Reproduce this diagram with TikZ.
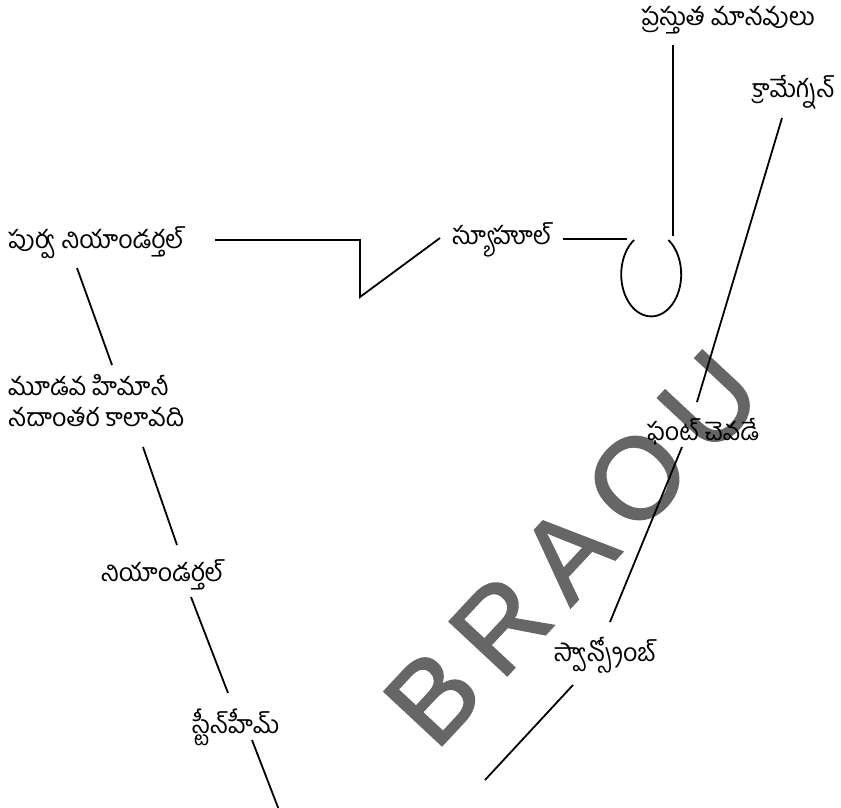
\documentclass[tikz,border=0pt]{standalone}
\usepackage{fontspec}
\newfontfamily\telugu[Script=Telugu]{Hind Guntur}
\newfontfamily\markfont[FakeBold=1.6]{Liberation Sans}
\usepackage{tikz}
\usetikzlibrary{positioning, calc}
\tikzstyle{lbl} = [font=\telugu\fontsize{25}{28}\selectfont, inner sep=0pt]
\tikzstyle{link} = [line width=1.8pt]
\tikzstyle{wmark} = [font=\markfont\fontsize{115}{115}\selectfont, text=black!60, inner sep=0pt]
\newcommand{\wgap}{\hspace{19pt}}

\begin{document}
\begin{tikzpicture}[x=1pt,y=-1pt]
    \useasboundingbox (0,0) rectangle (841,808);

    % watermark of the scan
    \node[wmark, rotate=47] (mark) at (572,548) {B\wgap R\wgap A\wgap O\wgap U};

    \node[lbl] (modern) at (728,20) {ప్రస్తుత మానవులు};
    \node[lbl, anchor=west] (cro) at (752,92) {క్రామేగ్నన్};
    \node[lbl, anchor=west] (preneand) at (8,243) {పుర్వ నియాండర్తల్};
    \node[lbl] (skhul) at (502,240) {స్యూహూల్};
    \node[lbl, anchor=west] (third) at (8,385) {మూడవ హిమానీ};
    \node[lbl, anchor=west] (inter) at (8,417) {నదాంతర కాలావది};
    \node[lbl] (font) at (703,432) {ఫంట్ చెవడే};
    \node[lbl] (neand) at (162,575) {నియాండర్తల్};
    \node[lbl] (swans) at (605,655) {స్వాన్స్కోంబ్};
    \node[lbl] (stein) at (236,727) {స్టీన్‌హీమ్};

    \coordinate (ovalc) at (651,275);
    \coordinate (stemend) at (279,810);
    \coordinate (basest) at (485,780);

    % the loop
    \draw[link] ($(ovalc)+(-17,-35)$) arc[start angle=235, end angle=-55, x radius=30, y radius=42];
    \draw[line width=2.6pt] ($(modern)+(-55,25)$) -- ($(ovalc)+(22,-39)$);
    \draw[link] ($(skhul)+(61,-1)$) -- ($(ovalc)+(-24,-36)$);

    \draw[link] ($(preneand.west)+(207,-3)$) -- ++(145,0) -- ++(0,57) -- ($(skhul)+(-62,-2)$);
    \draw[link] ($(preneand.west)+(69,25)$) -- ($(third.west)+(104,-20)$);
    \draw[link] ($(inter.west)+(135,30)$) -- ($(neand)+(15,-30)$);
    \draw[link] ($(neand)+(29,22)$) -- ($(stein)+(-8,-34)$);
    \draw[link] ($(stein)+(16,13)$) -- (stemend);

    \draw[link] (basest) -- ($(swans)+(-32,30)$);
    \draw[link] ($(swans)+(5,-33)$) -- ($(font)+(-21,15)$);
    \draw[link] ($(font)+(-6,-30)$) -- ($(cro.west)+(30,26)$);
\end{tikzpicture}
\end{document}
